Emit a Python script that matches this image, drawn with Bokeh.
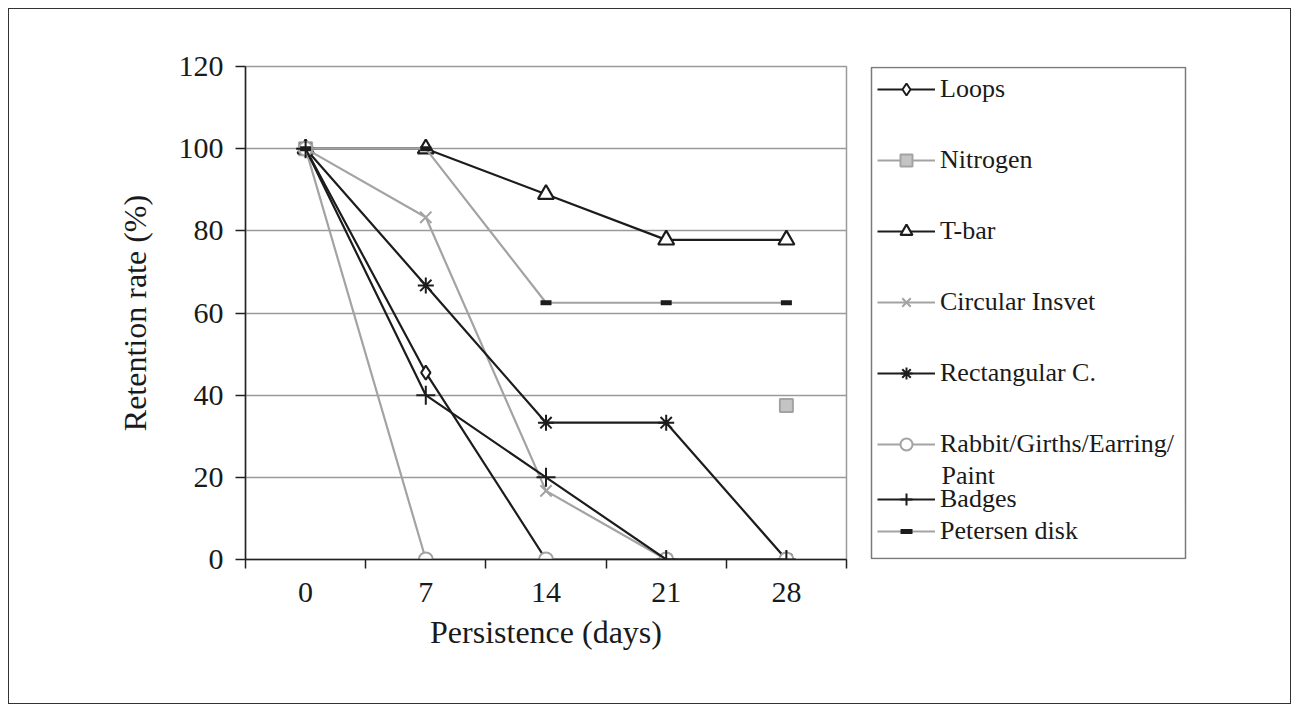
import math
from bokeh.plotting import figure
from bokeh.layouts import row
from bokeh.models import Legend, LegendItem, FixedTicker, Range1d
from bokeh.core.properties import value
from bokeh.embed import file_html
from bokeh.resources import INLINE

nan = math.nan

# ---- data ----
days = [0, 7, 14, 21, 28]
y_ticks = [0, 20, 40, 60, 80, 100, 120]

loops = [100, 45.5, 0, 0, 0]
nitrogen = [100, nan, nan, nan, 37.5]
tbar = [100, 100, 88.9, 77.8, 77.8]
circular = [100, 83.3, 16.7, 0, 0]
rectangular = [100, 66.7, 33.3, 33.3, 0]
rabbit = [100, 0, 0, 0, 0]
badges = [100, 40, 20, 0, 0]
petersen = [100, 100, 62.5, 62.5, 62.5]

names = ["Loops", "Nitrogen", "T-bar", "Circular Insvet", "Rectangular C.",
         "Rabbit/Girths/Earring/", "Badges", "Petersen disk"]
name_continued = ["Paint"]  # second line of the 6th legend label
values = [loops, nitrogen, tbar, circular, rectangular, rabbit, badges, petersen]

BLACK = "#1c1c1c"
GRAY = "#a3a3a3"
FONT = "Liberation Serif"

# marker, size, fill, marker line colour, marker line width
styles = [
    ("diamond", 14, "white", BLACK, 2),
    ("square", 13, "#c4c4c4", GRAY, 2),
    ("triangle", 16, "white", BLACK, 2.2),
    ("x", 16, None, GRAY, 2),
    ("asterisk", 16, None, BLACK, 2),
    ("circle", 14, "white", GRAY, 2),
    ("cross", 19, None, BLACK, 2),
    ("dash", 11, None, BLACK, 5),
]
line_colors = [BLACK, GRAY, BLACK, GRAY, BLACK, GRAY, BLACK, GRAY]

H = 694
WP = 851
FL, FT, FW, FH = 236, 57, 601, 493
WQ = 430

# ---------------- main chart ----------------
p = figure(width=WP, height=H, output_backend="svg", toolbar_location=None,
           x_range=Range1d(-3.5, 31.5), y_range=Range1d(0, 120),
           min_border_left=FL, min_border_right=WP - FL - FW,
           min_border_top=FT, min_border_bottom=H - FT - FH)

p.outline_line_color = "#9a9a9a"
p.outline_line_width = 1.5
p.xgrid.visible = False
p.ygrid.grid_line_color = "#9a9a9a"
p.ygrid.grid_line_width = 1.5
p.ygrid.ticker = FixedTicker(ticks=y_ticks)

p.yaxis.ticker = FixedTicker(ticks=y_ticks)
p.xaxis.ticker = FixedTicker(ticks=days, minor_ticks=[-3.5, 3.5, 10.5, 17.5, 24.5, 31.5])

for ax in (p.xaxis[0], p.yaxis[0]):
    ax.axis_line_color = "#222222"
    ax.axis_line_width = 1.5
    ax.major_tick_line_color = "#222222"
    ax.major_tick_line_width = 1.5
    ax.minor_tick_line_color = "#222222"
    ax.minor_tick_line_width = 1.5
    ax.major_label_text_font = FONT
    ax.major_label_text_font_size = "30px"
    ax.major_label_text_color = "#1a1a1a"
    ax.axis_label_text_font = FONT
    ax.axis_label_text_font_size = "32px"
    ax.axis_label_text_font_style = "normal"
    ax.axis_label_text_color = "#1a1a1a"

p.yaxis.major_tick_out = 10
p.yaxis.major_tick_in = 0
p.yaxis.minor_tick_out = 0
p.yaxis.minor_tick_in = 0
p.yaxis.major_label_standoff = 12
p.yaxis.axis_label = "Retention rate (%)"
p.yaxis.axis_label_standoff = 23

p.xaxis.major_tick_out = 0
p.xaxis.major_tick_in = 0
p.xaxis.minor_tick_out = 9
p.xaxis.minor_tick_in = 0
p.xaxis.major_label_standoff = 14
p.xaxis.axis_label = "Persistence (days)"
p.xaxis.axis_label_standoff = 9

for vals, st, lc in zip(values, styles, line_colors):
    marker, size, fill, mline, mlw = st
    p.line(days, vals, line_color=lc, line_width=2.2)
    p.scatter(days, vals, marker=marker, size=size,
              fill_color=fill if fill else mline,
              fill_alpha=1 if fill else 0,
              line_color=mline, line_width=mlw)

# ---------------- legend panel (page-pixel coordinates) ----------------
X0 = 9 + WP                      # page x of this panel's left edge
q = figure(width=WQ, height=H, output_backend="svg", toolbar_location=None,
           x_range=Range1d(X0, X0 + WQ), y_range=Range1d(9 + FT + FH, 9 + FT),
           x_axis_location=None, y_axis_location=None,
           min_border_left=0, min_border_right=0, min_border_top=0, min_border_bottom=0)
q.xgrid.visible = False
q.ygrid.visible = False
q.outline_line_color = None

BOX_L, BOX_R, BOX_T, BOX_B = 871, 1185, 67, 558
q.quad(left=[BOX_L], right=[BOX_R], top=[BOX_T], bottom=[BOX_B],
       fill_color="white", line_color="#7a7a7a", line_width=1.5)

items = []
for name, st, lc in zip(names, styles, line_colors):
    marker, size, fill, mline, mlw = st
    r1 = q.line([nan], [nan], line_color=lc, line_width=2.2)
    r2 = q.scatter([nan], [nan], marker=marker, size=size,
                   fill_color=fill if fill else mline,
                   fill_alpha=1 if fill else 0,
                   line_color=mline, line_width=mlw)
    items.append(LegendItem(label=name, renderers=[r1, r2]))

PAD, LH, GW, STD = 8, 30, 58, 5
common = dict(label_text_font=FONT, label_text_font_size="26px",
              label_text_color="#1a1a1a", label_height=LH, glyph_height=LH,
              glyph_width=GW, label_standoff=STD, padding=PAD, margin=0,
              border_line_color=None, background_fill_alpha=0)

frame_bottom = 9 + FT + FH
X_SHIFT = 6          # measured horizontal correction of the legend placement
Y_SHIFT = 8          # measured vertical correction of the legend placement

# upper block: Loops .. Rabbit
SP_A = 41
n_a = 6
h_a = 2 * PAD + n_a * LH + (n_a - 1) * SP_A
top_a = 66 - Y_SHIFT
leg_a = Legend(items=items[:n_a],
               location=(BOX_L - X0 + X_SHIFT, frame_bottom - (top_a + h_a)),
               spacing=SP_A, **common)
q.add_layout(leg_a, "center")

# lower block: Badges, Petersen disk
SP_B = 2
n_b = len(items) - n_a
h_b = 2 * PAD + n_b * LH + (n_b - 1) * SP_B
top_b = 476 - Y_SHIFT
leg_b = Legend(items=items[n_a:],
               location=(BOX_L - X0 + X_SHIFT, frame_bottom - (top_b + h_b)),
               spacing=SP_B, **common)
q.add_layout(leg_b, "center")

# second line of the Rabbit/Girths/Earring/ label
rabbit_center = 66 + PAD + LH / 2 + (n_a - 1) * (LH + SP_A)
q.text(x=[941], y=[rabbit_center + 31], text=name_continued,
       text_font=value(FONT), text_font_size="26px", text_color="#1a1a1a",
       text_baseline="middle", text_align="left")

layout = row(p, q, spacing=0,
             styles={"margin": "8px 0 0 8px", "border": "1px solid #333333"})

open("out.html", "w").write(file_html(layout, INLINE))
